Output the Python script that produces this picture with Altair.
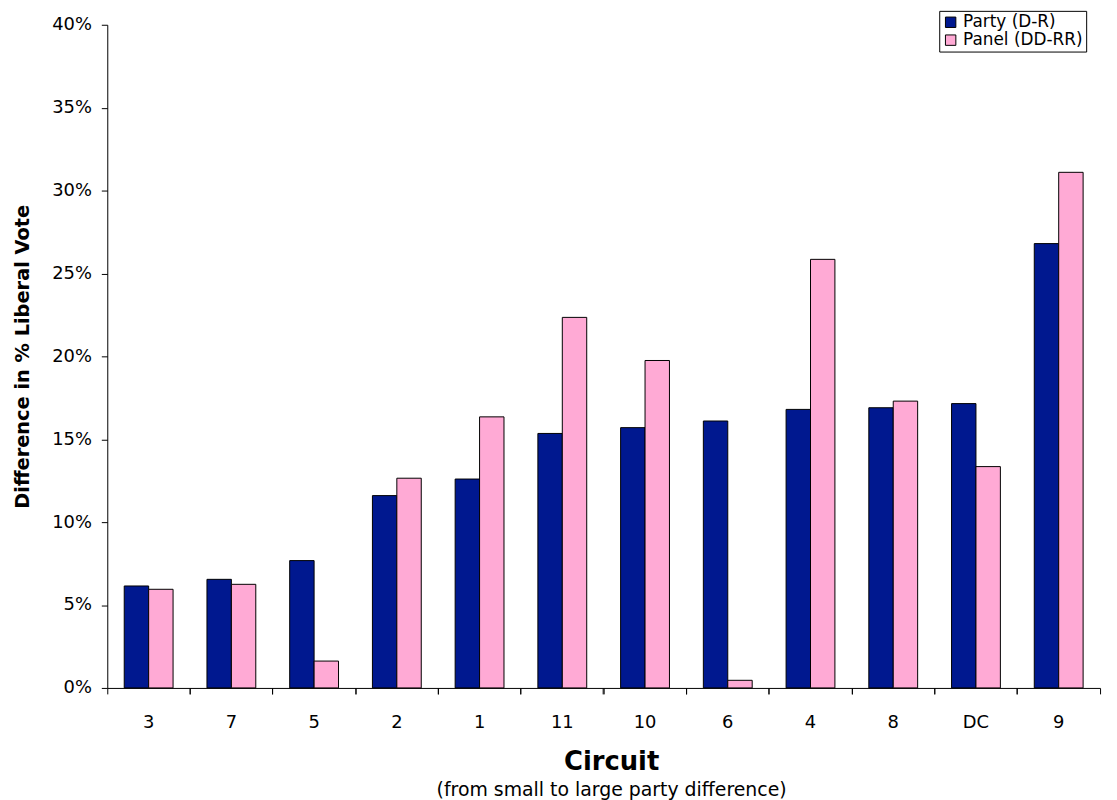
import altair as alt
import pandas as pd

circuits = ["3", "7", "5", "2", "1", "11", "10", "6", "4", "8", "DC", "9"]
party = [6.15, 6.55, 7.68, 11.6, 12.6, 15.35, 15.7, 16.1, 16.8, 16.9, 17.15, 26.8]
panel = [5.95, 6.25, 1.62, 12.65, 16.35, 22.35, 19.75, 0.46, 25.85, 17.3, 13.35, 31.1]
series = ["Party (D-R)", "Panel (DD-RR)"]
colors = ["#00188F", "#FFAAD5"]
y_ticks = [0, 0.05, 0.10, 0.15, 0.20, 0.25, 0.30, 0.35, 0.40]

rows = []
for c, p, q in zip(circuits, party, panel):
    rows.append({"circuit": c, "series": series[0], "value": p / 100})
    rows.append({"circuit": c, "series": series[1], "value": q / 100})
df = pd.DataFrame(rows)

font = "DejaVu Sans"
xscale = alt.Scale(domain=circuits, paddingInner=0, paddingOuter=0)

yenc = alt.Y(
    "value:Q",
    scale=alt.Scale(domain=[0, 0.4], nice=False),
    axis=alt.Axis(
        values=y_ticks, format=".0%", title="Difference in % Liberal Vote",
        titleFont=font, titleFontSize=19.5, titleFontWeight="bold", titleColor="black",
        titlePadding=19, labelFont=font, labelFontSize=18, labelColor="black",
        labelPadding=10, tickSize=6, tickColor="black", domainColor="black",
        grid=False,
    ),
)

bars = alt.Chart(df).mark_bar(stroke="black", strokeWidth=1).encode(
    x=alt.X(
        "circuit:N", sort=circuits, scale=xscale,
        axis=alt.Axis(
            title=None, labelAngle=0, ticks=False, tickSize=0, labelPadding=26,
            labelFont=font, labelFontSize=18, labelColor="black",
            domainColor="black", grid=False, orient="bottom",
        ),
    ),
    xOffset=alt.XOffset(
        "series:N", sort=series,
        scale=alt.Scale(domain=series, paddingInner=0, paddingOuter=0.694),
    ),
    y=yenc,
    color=alt.Color(
        "series:N", sort=series,
        scale=alt.Scale(domain=series, range=colors),
        legend=alt.Legend(
            title=None, orient="none", legendX=838, legendY=-14,
            symbolType="square", symbolSize=110, symbolStrokeColor="black",
            symbolStrokeWidth=1, labelFont=font, labelFontSize=17,
            labelColor="black", strokeColor="black", fillColor="white",
            padding=3, rowPadding=0, symbolOpacity=1, labelOffset=4,
        ),
    ),
)

ticks_left = alt.Chart(df).mark_point(opacity=0).encode(
    x=alt.X(
        "circuit:N", sort=circuits, scale=xscale,
        axis=alt.Axis(
            title=None, labels=False, domain=False, ticks=True, tickSize=6,
            tickColor="black", bandPosition=0, grid=False, orient="bottom",
        ),
    ),
    y=alt.Y("value:Q"),
)

ticks_right = alt.Chart(df).mark_point(opacity=0).encode(
    x=alt.X(
        "circuit:N", sort=circuits, scale=xscale,
        axis=alt.Axis(
            title=None, labels=False, domain=False, ticks=True, tickSize=6,
            tickColor="black", bandPosition=1, grid=False, orient="bottom",
        ),
    ),
    y=alt.Y("value:Q"),
)

chart = alt.layer(bars, ticks_left, ticks_right).resolve_axis(x="independent").properties(
    width=1000,
    height=668,
    autosize="none",
    padding={"left": 100, "top": 14, "right": 9, "bottom": 110},
    title=alt.TitleParams(
        text="Circuit",
        subtitle="(from small to large party difference)",
        orient="bottom", anchor="middle", dx=8, offset=18,
        font=font, fontSize=26, fontWeight="bold", color="black",
        subtitleFont=font, subtitleFontSize=19, subtitleColor="black",
        subtitlePadding=6,
    ),
).configure_view(stroke=None)

chart.save("out.html", embed_options={"renderer": "svg", "actions": False})
